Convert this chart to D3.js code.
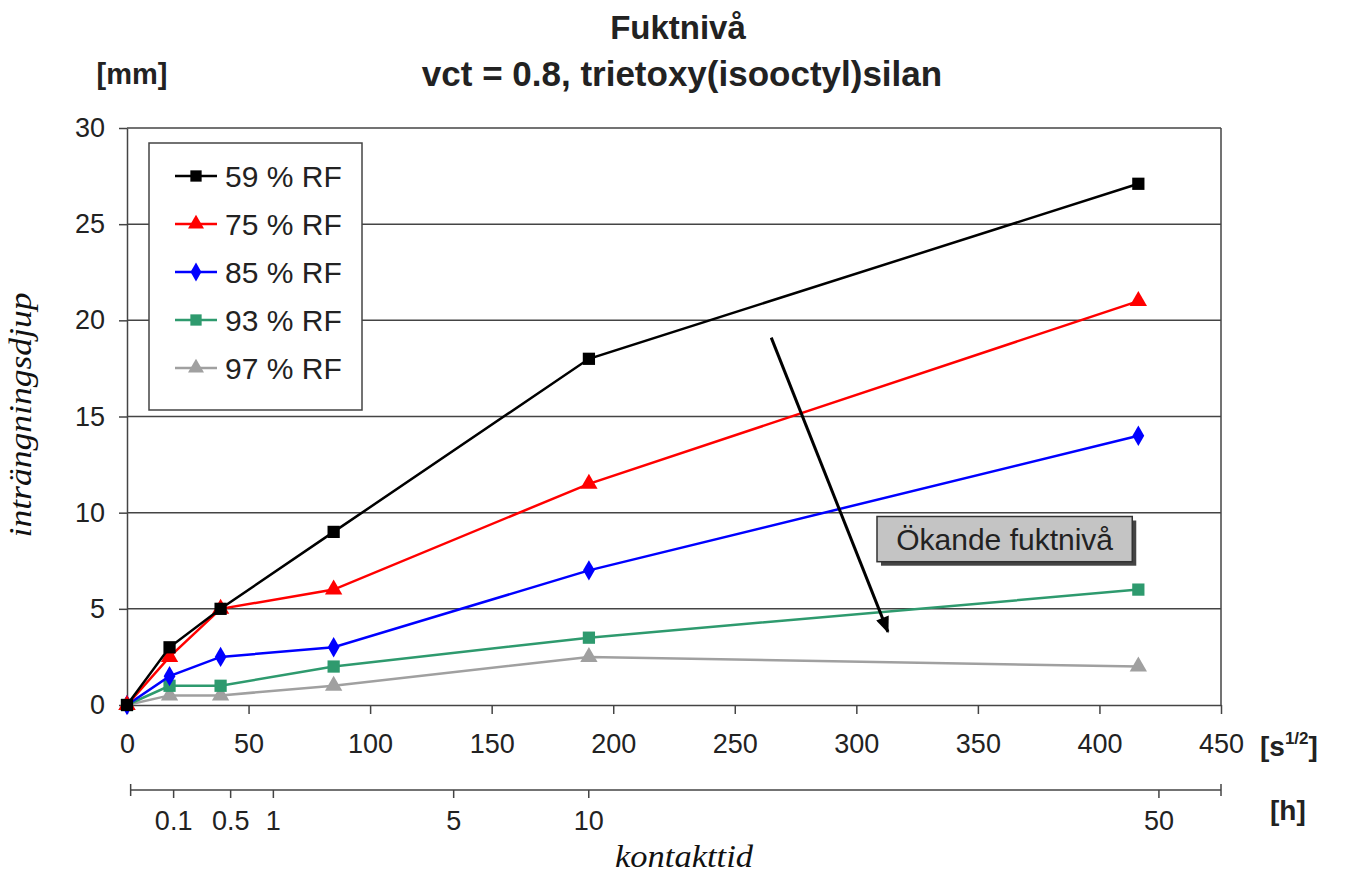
<!DOCTYPE html>
<html>
<head>
<meta charset="utf-8">
<script src="https://cdn.jsdelivr.net/npm/d3@7"></script>
<style>
  body { margin: 0; background: #fff; }
  text { font-family: "Liberation Sans", Arial, sans-serif; }
</style>
</head>
<body>
<svg width="1345" height="874"></svg>
<script>
// contact time in sqrt(seconds)
var times = [0, 17.5, 38.5, 85, 190, 416];
var rf59 = [0, 3, 5, 9, 18, 27.1];
var rf75 = [0, 2.5, 5, 6, 11.5, 21];
var rf85 = [0, 1.5, 2.5, 3, 7, 14];
var rf93 = [0, 1, 1, 2, 3.5, 6];
var rf97 = [0, 0.5, 0.5, 1, 2.5, 2];
var seriesNames = ["59 % RF", "75 % RF", "85 % RF", "93 % RF", "97 % RF"];
var yTicks = [0, 5, 10, 15, 20, 25, 30];
var xTicks = [0, 50, 100, 150, 200, 250, 300, 350, 400, 450];
var hourTicks = [0.1, 0.5, 1, 5, 10, 50];

var series = [
  { name: seriesNames[0], values: rf59, color: "#000000", shape: "square" },
  { name: seriesNames[1], values: rf75, color: "#ff0000", shape: "triangle" },
  { name: seriesNames[2], values: rf85, color: "#0000ff", shape: "diamond" },
  { name: seriesNames[3], values: rf93, color: "#2e9a6e", shape: "square" },
  { name: seriesNames[4], values: rf97, color: "#a0a0a0", shape: "triangle" }
];

var svg = d3.select("svg");
var margin = { top: 128, left: 127, right: 124, bottom: 169 };
var width = 1345 - margin.left - margin.right,
    height = 874 - margin.top - margin.bottom;

var x = d3.scaleLinear().domain([0, 450]).range([0, width]);
var y = d3.scaleLinear().domain([0, 30]).range([height, 0]);

var g = svg.append("g").attr("transform", "translate(" + margin.left + "," + margin.top + ")");

// gridlines
g.selectAll(".grid").data(yTicks.slice(1)).enter().append("line")
  .attr("x1", 0).attr("x2", width)
  .attr("y1", function (d) { return y(d); }).attr("y2", function (d) { return y(d); })
  .attr("stroke", "#444").attr("stroke-width", 1.5);
g.append("line").attr("x1", width).attr("x2", width).attr("y1", 0).attr("y2", height)
  .attr("stroke", "#444").attr("stroke-width", 1.5);

// axes
var yAxis = g.append("g").call(d3.axisLeft(y).tickValues(yTicks).tickSize(8).tickSizeOuter(0));
var xAxis = g.append("g").attr("transform", "translate(0," + height + ")")
  .call(d3.axisBottom(x).tickValues(xTicks).tickSize(9).tickSizeOuter(0));
[yAxis, xAxis].forEach(function (a) {
  a.selectAll("path, line").attr("stroke", "#444").attr("stroke-width", 1.5);
  a.selectAll("text").attr("font-size", 27).attr("fill", "#222")
    .style("font-family", "Liberation Sans, Arial, sans-serif");
});
yAxis.selectAll("text").attr("x", -22);
xAxis.selectAll("text").attr("y", 29);

// secondary (hours) axis
var hAxisY = height + 85;
var hAxis = g.append("g").attr("transform", "translate(0," + hAxisY + ")")
  .call(d3.axisBottom(x).tickValues(hourTicks.map(function (h) { return Math.sqrt(h * 3600); }))
    .tickFormat(function (d, i) { return hourTicks[i]; }).tickSize(8).tickSizeOuter(0));
hAxis.select(".domain").remove();
hAxis.append("line").attr("x1", x(1.5)).attr("x2", x(450)).attr("y1", 0).attr("y2", 0);
hAxis.selectAll(".ends").data([1.5, 450]).enter().append("line")
  .attr("x1", function (d) { return x(d); }).attr("x2", function (d) { return x(d); })
  .attr("y1", -6).attr("y2", 6);
hAxis.selectAll("line").attr("stroke", "#444").attr("stroke-width", 1.5);
hAxis.selectAll("text").attr("font-size", 27).attr("fill", "#222").attr("y", 21)
  .style("font-family", "Liberation Sans, Arial, sans-serif");

// marker shapes
function symbolFor(shape, size) {
  var t = shape === "square" ? d3.symbolSquare : shape === "triangle" ? d3.symbolTriangle : d3.symbolDiamond;
  return d3.symbol().type(t).size(size)();
}
var sizes = { square: 150, triangle: 130, diamond: 120 };

var line = d3.line()
  .x(function (d, i) { return x(times[i]); })
  .y(function (d) { return y(d); });

series.slice().reverse().forEach(function (s) {
  g.append("path").datum(s.values).attr("d", line)
    .attr("fill", "none").attr("stroke", s.color).attr("stroke-width", 2.5);
  g.selectAll(null).data(s.values).enter().append("path")
    .attr("transform", function (d, i) { return "translate(" + x(times[i]) + "," + y(d) + ")"; })
    .attr("d", symbolFor(s.shape, sizes[s.shape]))
    .attr("fill", s.color);
});

// legend
var legend = g.append("g").attr("transform", "translate(" + (149 - margin.left) + "," + (143 - margin.top) + ")");
legend.append("rect").attr("width", 213).attr("height", 267)
  .attr("fill", "#fff").attr("stroke", "#444").attr("stroke-width", 1.5);
series.forEach(function (s, i) {
  var ly = 33 + i * 48;
  legend.append("line").attr("x1", 26).attr("x2", 68).attr("y1", ly).attr("y2", ly)
    .attr("stroke", s.color).attr("stroke-width", 2.5);
  legend.append("path").attr("transform", "translate(47," + ly + ")")
    .attr("d", symbolFor(s.shape, sizes[s.shape] * 0.85)).attr("fill", s.color);
  legend.append("text").attr("x", 76).attr("y", ly).attr("dy", "0.36em")
    .attr("font-size", 30).attr("fill", "#222").text(s.name);
});

// arrow annotation (data units)
var arrowFrom = [265, 19.1], arrowTo = [313, 3.8];
svg.append("defs").append("marker").attr("id", "ah")
  .attr("viewBox", "0 0 12 10").attr("refX", 11).attr("refY", 5)
  .attr("markerWidth", 6).attr("markerHeight", 4.5).attr("orient", "auto")
  .append("path").attr("d", "M0,0 L12,5 L0,10 z").attr("fill", "#000");
g.append("line")
  .attr("x1", x(arrowFrom[0])).attr("y1", y(arrowFrom[1]))
  .attr("x2", x(arrowTo[0])).attr("y2", y(arrowTo[1]))
  .attr("stroke", "#000").attr("stroke-width", 3).attr("marker-end", "url(#ah)");

// note box
var box = { x0: 308.5, x1: 413.5, y0: 9.8, y1: 7.45 };
g.append("rect").attr("x", x(box.x0) + 4).attr("y", y(box.y0) + 4)
  .attr("width", x(box.x1) - x(box.x0)).attr("height", y(box.y1) - y(box.y0))
  .attr("fill", "#444");
g.append("rect").attr("x", x(box.x0)).attr("y", y(box.y0))
  .attr("width", x(box.x1) - x(box.x0)).attr("height", y(box.y1) - y(box.y0))
  .attr("fill", "#c4c4c4").attr("stroke", "#333").attr("stroke-width", 1.5);
g.append("text").attr("x", x((box.x0 + box.x1) / 2)).attr("y", y((box.y0 + box.y1) / 2))
  .attr("dy", "0.36em").attr("text-anchor", "middle").attr("font-size", 30).attr("fill", "#222")
  .text("Ökande fuktnivå");

// titles and labels
svg.append("text").attr("x", 678).attr("y", 39).attr("text-anchor", "middle")
  .attr("font-size", 33).attr("font-weight", "bold").attr("fill", "#222").text("Fuktnivå");
svg.append("text").attr("x", 682).attr("y", 86).attr("text-anchor", "middle")
  .attr("font-size", 35).attr("font-weight", "bold").attr("fill", "#222").text("vct = 0.8, trietoxy(isooctyl)silan");
svg.append("text").attr("x", 132).attr("y", 84).attr("text-anchor", "middle")
  .attr("font-size", 29).attr("font-weight", "bold").attr("fill", "#222").text("[mm]");

svg.append("text").attr("transform", "translate(31,415) rotate(-90)").attr("text-anchor", "middle")
  .attr("font-size", 32).attr("font-style", "italic").attr("fill", "#111")
  .attr("textLength", 245).attr("lengthAdjust", "spacingAndGlyphs")
  .style("font-family", "Liberation Serif, Times New Roman, serif").text("inträngningsdjup");
svg.append("text").attr("x", 684).attr("y", 867).attr("text-anchor", "middle")
  .attr("font-size", 32).attr("font-style", "italic").attr("fill", "#111")
  .attr("textLength", 138).attr("lengthAdjust", "spacingAndGlyphs")
  .style("font-family", "Liberation Serif, Times New Roman, serif").text("kontakttid");

var sLabel = svg.append("text").attr("x", 1260).attr("y", 756)
  .attr("font-size", 28).attr("font-weight", "bold").attr("fill", "#222");
sLabel.append("tspan").text("[s");
sLabel.append("tspan").attr("font-size", 17).attr("dy", -12).text("1/2");
sLabel.append("tspan").attr("dy", 12).text("]");
svg.append("text").attr("x", 1270).attr("y", 820)
  .attr("font-size", 28).attr("font-weight", "bold").attr("fill", "#222").text("[h]");
</script>
</body>
</html>
